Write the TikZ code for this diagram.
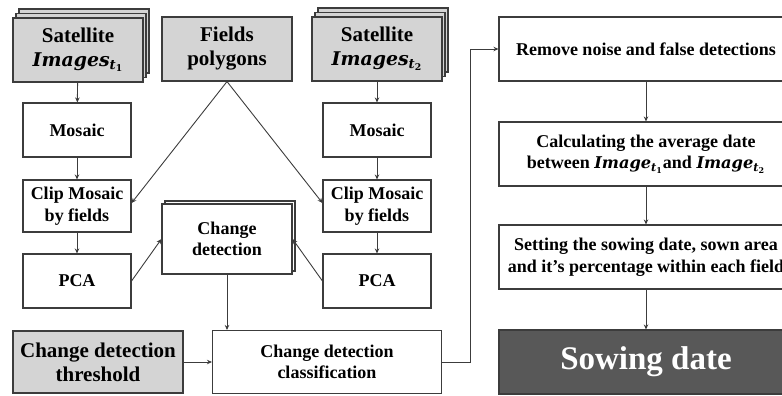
\documentclass[tikz,border=0pt]{standalone}
\usepackage{fontspec}
\setmainfont{Liberation Serif}
\newfontfamily\imgfont[Scale=0.9]{DejaVu Serif}
\usetikzlibrary{arrows.meta, shadows}
\definecolor{lightbox}{RGB}{212,212,212}
\definecolor{darkbox}{RGB}{88,88,88}
\definecolor{edgecol}{RGB}{60,60,60}
\newcommand{\bimg}[2]{{\imgfont\bfseries\itshape #1\textsubscript{t\textsubscript{\upshape #2}}}}
\tikzset{
  % Box styles
  box/.style={rectangle, draw=edgecol, line width=1.1pt, fill=white, inner sep=0pt, align=center,
    font=\bfseries\fontsize{18}{21.5}\selectfont},
  inbox/.style={box, fill=lightbox, font=\bfseries\fontsize{21}{24}\selectfont},
  stackbox/.style={inbox, double copy shadow={shadow xshift=3pt, shadow yshift=4.5pt,
    fill=lightbox, draw=edgecol, line width=1.1pt}},
  shadowbox/.style={box, copy shadow={shadow xshift=3pt, shadow yshift=3pt,
    fill=white, draw=edgecol, line width=1.1pt}},
  outbox/.style={box, fill=darkbox, text=white, font=\bfseries\fontsize{33}{38}\selectfont},
  % Connectors
  arr/.style={draw=edgecol, line width=0.9pt, -{Stealth[length=5pt, width=4.5pt]}},
}

\begin{document}
\begin{tikzpicture}[x=1pt, y=-1pt]
  \useasboundingbox (0,0) rectangle (782,396);

  % --- LEFT BRANCH (t1) ---
  \node[stackbox, minimum width=130pt, minimum height=64pt] (sat1) at (78, 50) {Satellite\\\bimg{Images}{1}};
  \node[box, minimum width=108pt, minimum height=54pt] (mos1) at (77, 130) {Mosaic};
  \node[box, minimum width=108pt, minimum height=52pt] (clip1) at (77, 206) {Clip Mosaic\\by fields};
  \node[box, minimum width=108pt, minimum height=54pt] (pca1) at (77, 281) {PCA};

  % --- FIELDS ---
  \node[inbox, minimum width=130pt, minimum height=64pt] (fields) at (227, 49) {Fields\\polygons};

  % --- RIGHT BRANCH (t2) ---
  \node[stackbox, minimum width=130pt, minimum height=64pt] (sat2) at (377, 49) {Satellite\\\bimg{Images}{2}};
  \node[box, minimum width=108pt, minimum height=54pt] (mos2) at (377, 130) {Mosaic};
  \node[box, minimum width=108pt, minimum height=52pt] (clip2) at (377, 206) {Clip Mosaic\\by fields};
  \node[box, minimum width=108pt, minimum height=54pt] (pca2) at (377, 281) {PCA};

  % --- CHANGE DETECTION ---
  \node[shadowbox, minimum width=130pt, minimum height=70pt] (chg) at (227, 239) {Change\\detection};
  \node[inbox, minimum width=170pt, minimum height=62pt] (thr) at (98, 362) {Change detection\\threshold};
  \node[box, minimum width=229pt, minimum height=63pt] (cls) at (327, 362) {Change detection\\classification};

  % --- POST PROCESSING ---
  \node[box, minimum width=294pt, minimum height=64pt] (rem) at (646, 49) {Remove noise and false detections};
  \node[box, minimum width=294pt, minimum height=64pt] (avg) at (646, 154)
    {Calculating the average date\\between \bimg{Image}{1}and \bimg{Image}{2}};
  \node[box, minimum width=294pt, minimum height=64pt] (set) at (646, 257)
    {Setting the sowing date, sown area\\and it’s percentage within each field};
  \node[outbox, minimum width=294pt, minimum height=64pt] (sow) at (646, 362) {Sowing date};

  % --- CONNECTORS ---
  \draw[arr] (sat1) -- (mos1);
  \draw[arr] (mos1) -- (clip1);
  \draw[arr] (clip1) -- (pca1);
  \draw[arr] (sat2) -- (mos2);
  \draw[arr] (mos2) -- (clip2);
  \draw[arr] (clip2) -- (pca2);
  \draw[arr] (fields.south) -- ([yshift=3pt]clip1.east);
  \draw[arr] (fields.south) -- ([yshift=3pt]clip2.west);
  \draw[arr] (pca1.east) -- (chg.west);
  \draw[arr] (pca2.west) -- (chg.east);
  \draw[arr] (chg.south) -- (chg.south |- cls.north);
  \draw[arr] (thr.east) -- (cls.west);
  \draw[arr] (cls.east) -- ++(28,0) |- (rem.west);
  \draw[arr] (rem) -- (avg);
  \draw[arr] (avg) -- (set);
  \draw[arr] (set) -- (sow);

\end{tikzpicture}
\end{document}
